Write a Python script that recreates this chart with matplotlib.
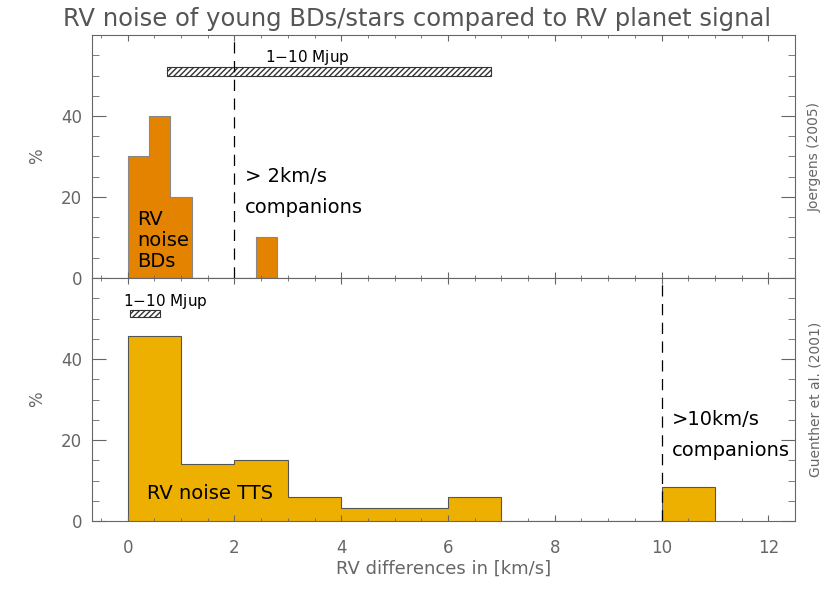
import matplotlib.pyplot as plt
from matplotlib.ticker import MultipleLocator

# RV noise histogram, brown dwarfs (Joergens 2005)
bd_edges = [0.0, 0.4, 0.8, 1.2, 2.4, 2.8]
bd_pct = [30, 40, 20, 0, 10]

# RV noise histogram, T Tauri stars (Guenther et al. 2001)
tts_edges = [0, 1, 2, 3, 4, 6, 7, 10, 11]
tts_pct = [45.7, 14.1, 15.1, 6.0, 3.1, 6.0, 0.0, 8.5]

# planet signal range 1-10 Mjup (km/s)
mjup_bd = (0.73, 6.8)
mjup_tts = (0.05, 0.6)

grey = '#666666'
plt.rcParams['font.family'] = ['DejaVu Sans']

fig = plt.figure(figsize=(8.3, 6.12), dpi=100)
ax1 = fig.add_axes([0.1108, 0.5458, 0.847, 0.397])
ax2 = fig.add_axes([0.1108, 0.1487, 0.847, 0.397])

ax1.stairs(bd_pct, bd_edges, fill=True, color='#E38300')
ax1.stairs(bd_pct, bd_edges, color='#888888', linewidth=0.8)
ax2.stairs(tts_pct, tts_edges, fill=True, color='#EEB000')
ax2.stairs(tts_pct, tts_edges, color='#555555', linewidth=0.8)

# hatched planet signal bars
ax1.bar(mjup_bd[0], 2.0, width=mjup_bd[1] - mjup_bd[0], bottom=50.0,
        align='edge', color='white', edgecolor='#333333', hatch='//////', linewidth=0.8)
ax2.bar(mjup_tts[0], 1.8, width=mjup_tts[1] - mjup_tts[0], bottom=50.3,
        align='edge', color='white', edgecolor='#333333', hatch='//////', linewidth=0.8)

ax1.axvline(2, color='black', linestyle=(0, (9, 6)), linewidth=0.9)
ax2.axvline(10, color='black', linestyle=(0, (9, 6)), linewidth=0.9)

ax1.text(3.37, 54.5, '1$-$10 Mjup', fontsize=11, ha='center', va='center')
ax1.text(2.2, 25, '> 2km/s', fontsize=14, ha='left', va='center')
ax1.text(2.2, 17.3, 'companions', fontsize=14, ha='left', va='center')
ax1.text(0.17, 9.2, 'RV\nnoise\nBDs', fontsize=14, ha='left', va='center',
         linespacing=1.15)

ax2.text(0.7, 54.2, '1$-$10 Mjup', fontsize=11, ha='center', va='center')
ax2.text(10.2, 25, '>10km/s', fontsize=14, ha='left', va='center')
ax2.text(10.2, 17.3, 'companions', fontsize=14, ha='left', va='center')
ax2.text(1.55, 6.7, 'RV noise TTS', fontsize=14, ha='center', va='center')

for ax in (ax1, ax2):
    ax.set_xlim(-0.67, 12.5)
    ax.set_ylim(0, 60)
    ax.set_yticks([0, 20, 40])
    ax.xaxis.set_major_locator(MultipleLocator(2))
    ax.xaxis.set_minor_locator(MultipleLocator(0.5))
    ax.yaxis.set_minor_locator(MultipleLocator(5))
    ax.tick_params(axis='y', which='major', direction='in', length=10,
                   left=True, right=True, labelsize=12, labelcolor=grey,
                   color=grey, pad=7)
    ax.tick_params(axis='y', which='minor', direction='in', length=5,
                   left=True, right=True, color=grey)
    ax.tick_params(axis='x', which='major', direction='in', length=4,
                   top=True, bottom=True, labelsize=12, labelcolor=grey,
                   color=grey, pad=13)
    ax.tick_params(axis='x', which='minor', direction='in', length=2.3,
                   top=True, bottom=True, color=grey)
    for s in ax.spines.values():
        s.set_color(grey)
    ax.set_ylabel('%', fontsize=12, color=grey, labelpad=11)

ax1.tick_params(axis='x', labelbottom=False)
ax2.set_xlabel('RV differences in [km/s]', fontsize=13, color=grey, labelpad=2)

fig.text(0.503, 0.969, 'RV noise of young BDs/stars compared to RV planet signal',
         fontsize=17.5, color='#555555', ha='center', va='center')
fig.text(0.982, 0.743, 'Joergens (2005)', fontsize=10, color=grey,
         rotation=90, ha='center', va='center')
fig.text(0.982, 0.347, 'Guenther et al. (2001)', fontsize=10, color=grey,
         rotation=90, ha='center', va='center')

fig.savefig('out.png', dpi=100)
